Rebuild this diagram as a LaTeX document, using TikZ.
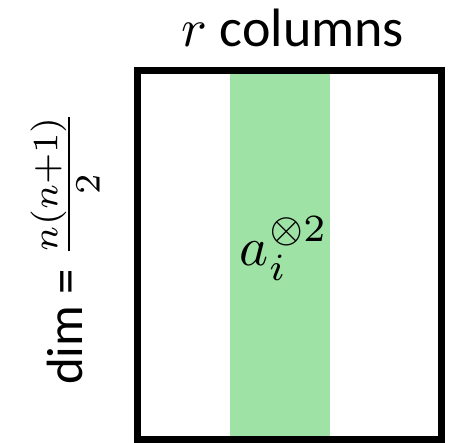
\documentclass[tikz,border=0pt]{standalone}
\usepackage[no-math]{fontspec}
\setmainfont{Carlito}
\definecolor{colgreen}{RGB}{159,226,166}
\newcommand{\bigtxt}[2][5.4]{\scalebox{#1}{\fontsize{10}{12}\selectfont #2}}
\tikzset{
  bigtext/.style={inner sep=0pt},
  frame/.style={draw=black, line width=7pt},
}
\begin{document}
\begin{tikzpicture}[x=1pt,y=-1pt]
\useasboundingbox (0,0) rectangle (450,443);
\fill[colgreen] (230,70.5) rectangle (330,440);
\draw[frame] (137,70.5) rectangle (441,440);
\node[bigtext, anchor=base] (title) at (293,47) {\bigtxt{$r$ columns}};
\node[bigtext, anchor=base, rotate=90] (dim) at (82,248) {\bigtxt[5.1]{dim = $\frac{n(n+1)}{2}$}};
\node[bigtext] (vec) at (284,249) {\bigtxt[5.5]{$a_i^{\otimes 2}$}};
\end{tikzpicture}
\end{document}
